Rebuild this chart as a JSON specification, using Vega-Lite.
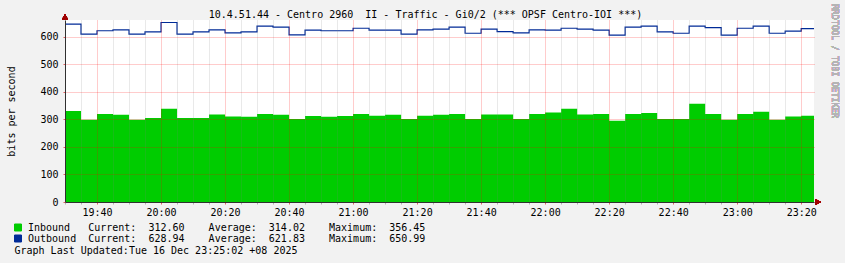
{
  "$schema": "https://vega.github.io/schema/vega-lite/v6.json",
  "width": 749,
  "height": 182,
  "autosize": {"type": "none"},
  "padding": {"left": 65, "top": 20, "right": 31, "bottom": 61},
  "background": "#f2f2f2",
  "view": {"fill": "white", "stroke": null},
  "config": {
    "font": "DejaVu Sans Mono",
    "axis": {"labelFont": "DejaVu Sans Mono", "labelFontSize": 10, "labelColor": "#000000", "titleFont": "DejaVu Sans Mono", "titleFontSize": 10, "titleFontWeight": "normal", "titleColor": "#000000", "domainColor": "#303030"}
  },
  "title": {"text": "10.4.51.44 - Centro 2960\u00a0\u00a0II - Traffic - Gi0/2 (*** OPSF Centro-IOI ***)", "font": "DejaVu Sans Mono", "fontSize": 10, "fontWeight": "normal", "color": "#000000", "anchor": "middle", "dx": -14, "offset": -16},
  "data": {"values": [
    {"t": "2025-12-16T19:30:00Z", "inb": 322, "outb": 633},
    {"t": "2025-12-16T19:35:00Z", "inb": 330, "outb": 645},
    {"t": "2025-12-16T19:40:00Z", "inb": 298, "outb": 609},
    {"t": "2025-12-16T19:45:00Z", "inb": 319, "outb": 621},
    {"t": "2025-12-16T19:50:00Z", "inb": 316, "outb": 624},
    {"t": "2025-12-16T19:55:00Z", "inb": 298, "outb": 609},
    {"t": "2025-12-16T20:00:00Z", "inb": 305, "outb": 617},
    {"t": "2025-12-16T20:05:00Z", "inb": 338, "outb": 650.99},
    {"t": "2025-12-16T20:10:00Z", "inb": 305, "outb": 609},
    {"t": "2025-12-16T20:15:00Z", "inb": 305, "outb": 617},
    {"t": "2025-12-16T20:20:00Z", "inb": 317, "outb": 624},
    {"t": "2025-12-16T20:25:00Z", "inb": 310, "outb": 613},
    {"t": "2025-12-16T20:30:00Z", "inb": 309, "outb": 617},
    {"t": "2025-12-16T20:35:00Z", "inb": 319, "outb": 638},
    {"t": "2025-12-16T20:40:00Z", "inb": 316, "outb": 634},
    {"t": "2025-12-16T20:45:00Z", "inb": 301, "outb": 606},
    {"t": "2025-12-16T20:50:00Z", "inb": 312, "outb": 623},
    {"t": "2025-12-16T20:55:00Z", "inb": 309, "outb": 621},
    {"t": "2025-12-16T21:00:00Z", "inb": 312, "outb": 621},
    {"t": "2025-12-16T21:05:00Z", "inb": 319, "outb": 630},
    {"t": "2025-12-16T21:10:00Z", "inb": 313, "outb": 623},
    {"t": "2025-12-16T21:15:00Z", "inb": 316, "outb": 623},
    {"t": "2025-12-16T21:20:00Z", "inb": 301, "outb": 609},
    {"t": "2025-12-16T21:25:00Z", "inb": 313, "outb": 624},
    {"t": "2025-12-16T21:30:00Z", "inb": 316, "outb": 627},
    {"t": "2025-12-16T21:35:00Z", "inb": 319, "outb": 634},
    {"t": "2025-12-16T21:40:00Z", "inb": 301, "outb": 612},
    {"t": "2025-12-16T21:45:00Z", "inb": 317, "outb": 627},
    {"t": "2025-12-16T21:50:00Z", "inb": 317, "outb": 618},
    {"t": "2025-12-16T21:55:00Z", "inb": 301, "outb": 613},
    {"t": "2025-12-16T22:00:00Z", "inb": 319, "outb": 624},
    {"t": "2025-12-16T22:05:00Z", "inb": 325, "outb": 623},
    {"t": "2025-12-16T22:10:00Z", "inb": 338, "outb": 630},
    {"t": "2025-12-16T22:15:00Z", "inb": 317, "outb": 627},
    {"t": "2025-12-16T22:20:00Z", "inb": 319, "outb": 623},
    {"t": "2025-12-16T22:25:00Z", "inb": 295, "outb": 605},
    {"t": "2025-12-16T22:30:00Z", "inb": 319, "outb": 634},
    {"t": "2025-12-16T22:35:00Z", "inb": 323, "outb": 638},
    {"t": "2025-12-16T22:40:00Z", "inb": 301, "outb": 617},
    {"t": "2025-12-16T22:45:00Z", "inb": 301, "outb": 612},
    {"t": "2025-12-16T22:50:00Z", "inb": 356.45, "outb": 638},
    {"t": "2025-12-16T22:55:00Z", "inb": 319, "outb": 632},
    {"t": "2025-12-16T23:00:00Z", "inb": 298, "outb": 605},
    {"t": "2025-12-16T23:05:00Z", "inb": 319, "outb": 630},
    {"t": "2025-12-16T23:10:00Z", "inb": 327, "outb": 638},
    {"t": "2025-12-16T23:15:00Z", "inb": 298, "outb": 612},
    {"t": "2025-12-16T23:20:00Z", "inb": 310, "outb": 620},
    {"t": "2025-12-16T23:25:00Z", "inb": 312.6, "outb": 628.94}
  ]},
  "encoding": {
    "x": {
      "field": "t", "type": "temporal",
      "scale": {"type": "utc", "domain": [1765913400000, 1765927440000], "nice": false},
      "axis": {
        "title": "Graph Last Updated:Tue 16 Dec 23:25:02 +08 2025",
        "values": [1765913400000, 1765913700000, 1765914000000, 1765914300000, 1765914600000, 1765914900000, 1765915200000, 1765915500000, 1765915800000, 1765916100000, 1765916400000, 1765916700000, 1765917000000, 1765917300000, 1765917600000, 1765917900000, 1765918200000, 1765918500000, 1765918800000, 1765919100000, 1765919400000, 1765919700000, 1765920000000, 1765920300000, 1765920600000, 1765920900000, 1765921200000, 1765921500000, 1765921800000, 1765922100000, 1765922400000, 1765922700000, 1765923000000, 1765923300000, 1765923600000, 1765923900000, 1765924200000, 1765924500000, 1765924800000, 1765925100000, 1765925400000, 1765925700000, 1765926000000, 1765926300000, 1765926600000, 1765926900000, 1765927200000],
        "labelExpr": "utcminutes(datum.value) % 20 === 0 ? utcFormat(datum.value, '%H:%M') : ''",
        "labelOverlap": false,
        "labelPadding": 3,
        "grid": true,
        "gridColor": {"condition": {"test": "utcminutes(datum.value) % 20 === 0", "value": "#ff0000"}, "value": "#808080"},
        "gridOpacity": {"condition": {"test": "utcminutes(datum.value) % 20 === 0", "value": 0.4}, "value": 0.35},
        "gridDash": [1, 1],
        "tickColor": {"condition": {"test": "utcminutes(datum.value) % 20 === 0", "value": "#e06060"}, "value": "#b0b0b0"},
        "tickSize": 2,
        "titleX": -51, "titleY": 48, "titleAlign": "left", "titleBaseline": "middle",
        "zindex": 1
      }
    }
  },
  "layer": [
    {
      "mark": {"type": "area", "interpolate": "step-before", "clip": true},
      "encoding": {
        "y": {
          "field": "inb", "type": "quantitative",
          "scale": {"domain": [0, 660], "nice": false, "zero": true},
          "axis": {
            "title": "bits per second",
            "tickCount": 7,
            "labelPadding": 5,
            "grid": true,
            "gridColor": "#ff0000",
            "gridOpacity": 0.4,
            "gridDash": [1, 1],
            "tickColor": "#e06060",
            "tickSize": 2,
            "titleX": -54, "titleY": 91, "titleAngle": 270, "titleAlign": "center", "titleBaseline": "middle",
            "zindex": 1
          }
        },
        "color": {
          "datum": "Inbound\u00a0\u00a0\u00a0Current:\u00a0\u00a0312.60\u00a0\u00a0\u00a0\u00a0Average:\u00a0\u00a0314.02\u00a0\u00a0\u00a0\u00a0Maximum:\u00a0\u00a0356.45", "type": "nominal",
          "scale": {"range": ["#00cc00", "#002a97"]},
          "legend": {
            "orient": "none", "legendX": -52, "legendY": 202.5, "title": null,
            "symbolType": "square", "symbolSize": 49, "symbolStrokeColor": "#000000", "symbolStrokeWidth": 1,
            "labelFont": "DejaVu Sans Mono", "labelFontSize": 10, "labelColor": "#000000", "labelLimit": 1000, "labelOffset": 5, "rowPadding": -2.5
          }
        }
      }
    },
    {
      "mark": {"type": "line", "interpolate": "step-before", "strokeWidth": 1.2, "clip": true},
      "encoding": {
        "y": {"field": "outb", "type": "quantitative"},
        "color": {"datum": "Outbound\u00a0\u00a0Current:\u00a0\u00a0628.94\u00a0\u00a0\u00a0\u00a0Average:\u00a0\u00a0621.83\u00a0\u00a0\u00a0\u00a0Maximum:\u00a0\u00a0650.99", "type": "nominal"}
      }
    },
    {
      "mark": {"type": "point", "shape": "triangle-up", "filled": true, "color": "#a00000", "opacity": 1, "size": 36, "yOffset": -3},
      "encoding": {
        "x": {"datum": 1765913400000, "type": "temporal"},
        "y": {"datum": 660, "type": "quantitative"}
      }
    },
    {
      "mark": {"type": "point", "shape": "triangle-right", "filled": true, "color": "#a00000", "opacity": 1, "size": 36, "xOffset": 4},
      "encoding": {
        "x": {"datum": 1765927440000, "type": "temporal"},
        "y": {"datum": 0, "type": "quantitative"}
      }
    },
    {
      "mark": {"type": "text", "text": "RRDTOOL / TOBI OETIKER", "angle": 90, "align": "center", "baseline": "middle", "xOffset": 21, "font": "DejaVu Sans Mono", "fontSize": 8.6, "color": "#b4b4b4"},
      "encoding": {
        "x": {"datum": 1765927440000, "type": "temporal"},
        "y": {"datum": 511, "type": "quantitative"}
      }
    }
  ]
}
